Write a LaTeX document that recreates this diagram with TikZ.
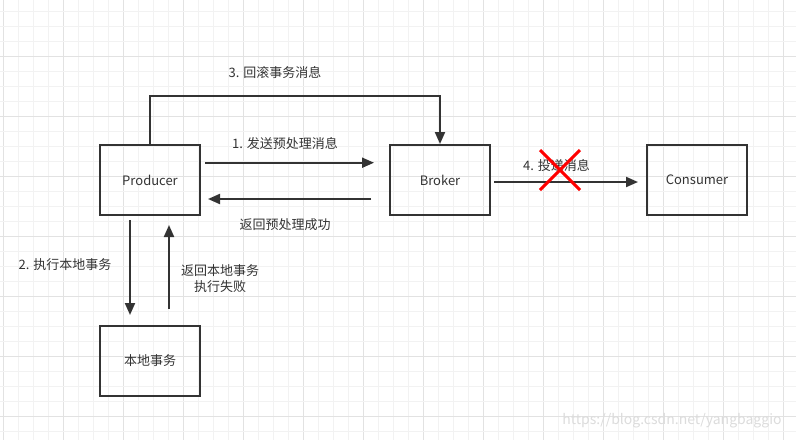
\documentclass[tikz,border=0pt]{standalone}
\usepackage{fontspec}
\setmainfont{Noto Sans CJK SC}
\usetikzlibrary{arrows.meta}
\definecolor{ln}{HTML}{333333}
\definecolor{gminor}{HTML}{F2F2F2}
\definecolor{gmajor}{HTML}{E2E2E2}
\definecolor{wm}{HTML}{DCDCDC}
\tikzset{
  box/.style={draw=ln, line width=2pt, minimum width=100pt, minimum height=70pt, inner sep=0pt, text=ln, font=\fontsize{13}{15}\selectfont},
  arr/.style={draw=ln, line width=2pt, -{Triangle[length=12pt,width=10pt]}},
  lbl/.style={text=ln, inner sep=0pt, align=center, font=\fontsize{13}{16.5}\selectfont},
  cross/.style={draw=red, line width=3pt}
}
\begin{document}
\begin{tikzpicture}[x=1pt,y=-1pt]
\fill[white] (0,0) rectangle (796,440);
\useasboundingbox (0,0) rectangle (796,440);
% grid
\foreach \i in {0,...,52}{
  \pgfmathtruncatemacro{\m}{mod(\i,4)}
  \ifnum\m=0 \draw[gmajor,line width=1pt] ({3.3+15*\i},0) -- ++(0,440);
  \else \draw[gminor,line width=1pt] ({3.3+15*\i},0) -- ++(0,440); \fi
}
\foreach \j in {0,...,28}{
  \pgfmathtruncatemacro{\m}{mod(\j,4)}
  \ifnum\m=3 \draw[gmajor,line width=1pt] (0,{11.7+15*\j}) -- ++(796,0);
  \else \draw[gminor,line width=1pt] (0,{11.7+15*\j}) -- ++(796,0); \fi
}
% boxes
\node[box] (prod) at (150,180) {Producer};
\node[box] (broker) at (440,180) {Broker};
\node[box] (cons) at (697,180) {Consumer};
\node[box] (local) at (150,361) {本地事务};
% connectors
\coordinate (p1s) at (205,162.7);
\coordinate (b1e) at (374,162.7);
\coordinate (b2s) at (371,199);
\coordinate (p2e) at (208,199);
\coordinate (d2s) at (130,220);
\coordinate (d2e) at (130,315);
\coordinate (u2s) at (169,309);
\coordinate (u2e) at (169,225);
\coordinate (b4s) at (494,182);
\coordinate (c4e) at (638,182);
\draw[arr] (prod.north) -- ++(0,-48.3) -| (broker.north);
\draw[arr] (p1s) -- (b1e);
\draw[arr] (b2s) -- (p2e);
\draw[arr] (b4s) -- (c4e);
\draw[arr] (d2s) -- (d2e);
\draw[arr] (u2s) -- (u2e);
% labels
\node[lbl] (l3) at (275,73) {3. 回滚事务消息};
\node[lbl] (l1) at (285,143.5) {1. 发送预处理消息};
\node[lbl] (lr) at (285,225) {返回预处理成功};
\node[lbl] (l4) at (556.5,165.5) {4. 投递消息};
\node[lbl] (l2) at (65,265) {2. 执行本地事务};
\node[lbl] (lf) at (220,278.5) {返回本地事务\\执行失败};
% red cross
\coordinate (x1) at (540,150);
\coordinate (x2) at (580,190);
\coordinate (x3) at (580,150);
\coordinate (x4) at (540,190);
\draw[cross] (x1) -- (x2);
\draw[cross] (x3) -- (x4);
% watermark
\node[text=wm, inner sep=0pt, font=\fontsize{14}{16}\selectfont] (wmk) at (672,421) {https://blog.csdn.net/yangbaggio};
\end{tikzpicture}
\end{document}
